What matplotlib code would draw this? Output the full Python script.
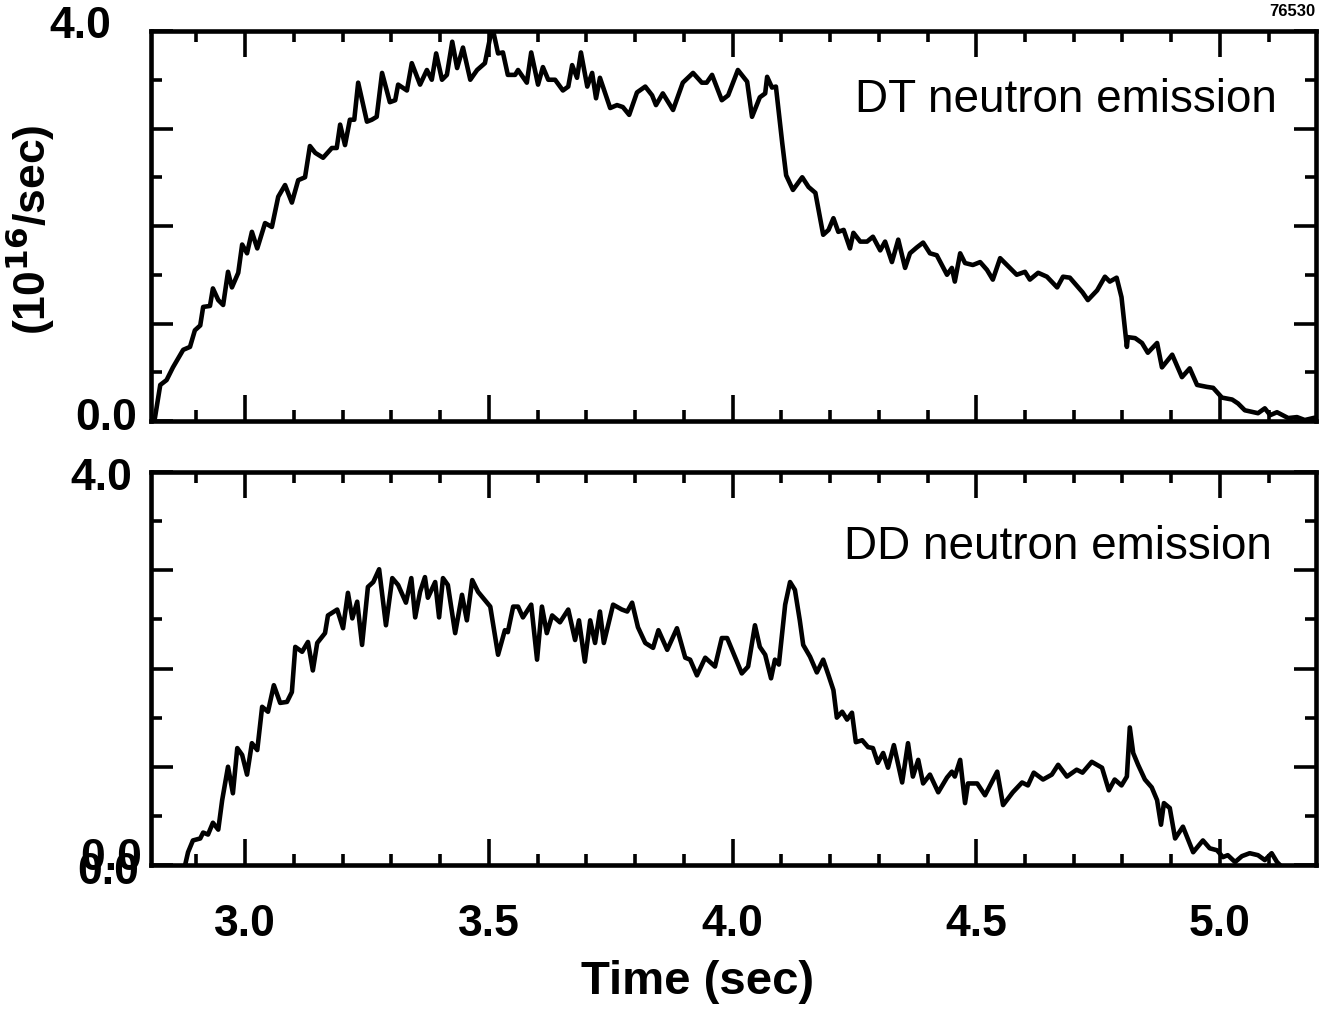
import matplotlib
matplotlib.use("Agg")
import matplotlib.pyplot as plt
from matplotlib.ticker import MultipleLocator

# DT neutron emission (10^16/sec)
dt_time = [
    2.807, 2.815, 2.826, 2.839, 2.852, 2.873, 2.887, 2.897, 2.908, 2.914,
    2.928, 2.934, 2.945, 2.955, 2.965, 2.973, 2.986, 2.994, 3.004, 3.014,
    3.025, 3.041, 3.055, 3.068, 3.082, 3.096, 3.109, 3.123, 3.133, 3.144,
    3.160, 3.178, 3.188, 3.195, 3.205, 3.215, 3.224, 3.232, 3.250, 3.260,
    3.270, 3.281, 3.297, 3.308, 3.314, 3.332, 3.342, 3.359, 3.373, 3.383,
    3.392, 3.404, 3.414, 3.425, 3.435, 3.447, 3.462, 3.476, 3.492, 3.503,
    3.509, 3.519, 3.529, 3.539, 3.554, 3.560, 3.578, 3.587, 3.601, 3.611,
    3.622, 3.636, 3.652, 3.663, 3.671, 3.681, 3.689, 3.702, 3.712, 3.720,
    3.728, 3.749, 3.763, 3.775, 3.788, 3.804, 3.821, 3.835, 3.843, 3.857,
    3.878, 3.898, 3.919, 3.937, 3.947, 3.958, 3.978, 3.991, 4.011, 4.030,
    4.040, 4.056, 4.067, 4.071, 4.081, 4.089, 4.102, 4.110, 4.124, 4.143,
    4.156, 4.170, 4.186, 4.197, 4.207, 4.217, 4.228, 4.241, 4.248, 4.262,
    4.276, 4.288, 4.303, 4.313, 4.327, 4.340, 4.354, 4.364, 4.378, 4.391,
    4.405, 4.419, 4.440, 4.450, 4.456, 4.467, 4.477, 4.493, 4.508, 4.522,
    4.534, 4.549, 4.569, 4.583, 4.600, 4.610, 4.627, 4.645, 4.666, 4.678,
    4.692, 4.706, 4.718, 4.729, 4.748, 4.764, 4.774, 4.788, 4.798, 4.809,
    4.811, 4.826, 4.840, 4.852, 4.871, 4.881, 4.902, 4.922, 4.938, 4.953,
    4.973, 4.986, 5.004, 5.025, 5.037, 5.051, 5.078, 5.092, 5.103, 5.117,
    5.140, 5.158, 5.174, 5.191,
]
dt_rate = [
    0.00, 0.03, 0.37, 0.42, 0.55, 0.73, 0.76, 0.93, 0.98, 1.17,
    1.18, 1.36, 1.24, 1.19, 1.53, 1.37, 1.52, 1.81, 1.72, 1.94,
    1.77, 2.03, 1.99, 2.30, 2.42, 2.24, 2.47, 2.50, 2.82, 2.75,
    2.70, 2.80, 2.80, 3.04, 2.83, 3.09, 3.09, 3.47, 3.07, 3.09,
    3.12, 3.57, 3.27, 3.29, 3.45, 3.39, 3.67, 3.45, 3.60, 3.50,
    3.77, 3.50, 3.55, 3.89, 3.62, 3.83, 3.50, 3.60, 3.67, 3.94,
    4.00, 3.77, 3.78, 3.55, 3.55, 3.60, 3.47, 3.78, 3.45, 3.63,
    3.50, 3.50, 3.39, 3.43, 3.65, 3.52, 3.78, 3.43, 3.57, 3.31,
    3.52, 3.21, 3.24, 3.22, 3.14, 3.37, 3.43, 3.34, 3.24, 3.36,
    3.19, 3.47, 3.57, 3.47, 3.47, 3.55, 3.29, 3.34, 3.60, 3.48,
    3.12, 3.32, 3.36, 3.53, 3.42, 3.43, 2.85, 2.52, 2.37, 2.50,
    2.40, 2.34, 1.91, 1.96, 2.08, 1.94, 1.96, 1.77, 1.93, 1.84,
    1.84, 1.89, 1.75, 1.84, 1.63, 1.86, 1.57, 1.72, 1.78, 1.83,
    1.72, 1.70, 1.50, 1.57, 1.43, 1.72, 1.62, 1.60, 1.63, 1.55,
    1.45, 1.67, 1.57, 1.50, 1.53, 1.45, 1.52, 1.48, 1.37, 1.48,
    1.47, 1.39, 1.32, 1.24, 1.34, 1.48, 1.43, 1.47, 1.27, 0.76,
    0.86, 0.85, 0.80, 0.70, 0.80, 0.55, 0.68, 0.45, 0.54, 0.37,
    0.35, 0.34, 0.24, 0.22, 0.18, 0.11, 0.08, 0.13, 0.06, 0.09,
    0.03, 0.04, 0.01, 0.03,
]

# DD neutron emission (10^16/sec)
dd_time = [
    2.877, 2.883, 2.893, 2.908, 2.914, 2.924, 2.934, 2.945, 2.953, 2.965,
    2.975, 2.984, 2.994, 3.004, 3.014, 3.025, 3.035, 3.047, 3.059, 3.072,
    3.086, 3.096, 3.103, 3.117, 3.129, 3.139, 3.148, 3.164, 3.170, 3.189,
    3.201, 3.211, 3.220, 3.230, 3.240, 3.252, 3.263, 3.275, 3.289, 3.302,
    3.314, 3.330, 3.341, 3.349, 3.359, 3.369, 3.375, 3.390, 3.398, 3.406,
    3.416, 3.431, 3.445, 3.455, 3.466, 3.478, 3.503, 3.519, 3.533, 3.539,
    3.550, 3.560, 3.570, 3.587, 3.599, 3.609, 3.619, 3.630, 3.646, 3.663,
    3.677, 3.685, 3.697, 3.708, 3.718, 3.728, 3.736, 3.755, 3.773, 3.784,
    3.794, 3.806, 3.821, 3.837, 3.848, 3.866, 3.886, 3.903, 3.913, 3.927,
    3.944, 3.964, 3.978, 3.989, 4.019, 4.032, 4.046, 4.056, 4.067, 4.079,
    4.087, 4.095, 4.108, 4.118, 4.128, 4.138, 4.145, 4.159, 4.173, 4.186,
    4.197, 4.207, 4.214, 4.225, 4.235, 4.245, 4.253, 4.266, 4.278, 4.288,
    4.298, 4.309, 4.319, 4.331, 4.348, 4.360, 4.370, 4.381, 4.391, 4.405,
    4.422, 4.440, 4.450, 4.456, 4.467, 4.477, 4.483, 4.502, 4.518, 4.543,
    4.555, 4.575, 4.594, 4.606, 4.618, 4.637, 4.655, 4.668, 4.686, 4.706,
    4.718, 4.737, 4.758, 4.772, 4.784, 4.798, 4.809, 4.815, 4.822, 4.832,
    4.846, 4.860, 4.871, 4.879, 4.885, 4.897, 4.908, 4.924, 4.945, 4.965,
    4.979, 4.994, 5.006, 5.016, 5.031, 5.045, 5.061, 5.078, 5.092, 5.106,
    5.117, 5.123,
]
dd_rate = [
    0.00, 0.13, 0.25, 0.27, 0.33, 0.31, 0.43, 0.36, 0.66, 1.00,
    0.73, 1.19, 1.12, 0.92, 1.24, 1.17, 1.61, 1.56, 1.83, 1.65,
    1.66, 1.76, 2.22, 2.17, 2.27, 1.98, 2.26, 2.36, 2.54, 2.60,
    2.41, 2.77, 2.51, 2.68, 2.24, 2.83, 2.88, 3.01, 2.44, 2.92,
    2.85, 2.67, 2.92, 2.52, 2.78, 2.93, 2.72, 2.88, 2.52, 2.92,
    2.85, 2.36, 2.75, 2.49, 2.90, 2.78, 2.63, 2.14, 2.39, 2.37,
    2.63, 2.63, 2.52, 2.65, 2.09, 2.63, 2.36, 2.54, 2.47, 2.60,
    2.29, 2.49, 2.07, 2.49, 2.26, 2.58, 2.26, 2.65, 2.60, 2.58,
    2.67, 2.42, 2.26, 2.21, 2.39, 2.19, 2.41, 2.11, 2.09, 1.93,
    2.11, 2.02, 2.31, 2.31, 1.95, 2.02, 2.44, 2.22, 2.14, 1.90,
    2.09, 2.04, 2.65, 2.88, 2.80, 2.49, 2.24, 2.12, 1.96, 2.09,
    1.93, 1.78, 1.50, 1.56, 1.48, 1.55, 1.25, 1.27, 1.20, 1.19,
    1.04, 1.14, 0.99, 1.22, 0.84, 1.24, 0.90, 1.07, 0.83, 0.92,
    0.74, 0.89, 0.95, 0.90, 1.07, 0.63, 0.83, 0.83, 0.71, 0.95,
    0.61, 0.74, 0.84, 0.81, 0.94, 0.87, 0.92, 1.02, 0.90, 0.97,
    0.94, 1.05, 0.99, 0.76, 0.87, 0.81, 0.90, 1.40, 1.14, 1.02,
    0.87, 0.79, 0.66, 0.41, 0.63, 0.58, 0.27, 0.39, 0.13, 0.25,
    0.17, 0.15, 0.08, 0.10, 0.03, 0.09, 0.12, 0.10, 0.05, 0.12,
    0.03, 0.00,
]

x_ticks = [3.0, 3.5, 4.0, 4.5, 5.0]
x_tick_labels = ["3.0", "3.5", "4.0", "4.5", "5.0"]
panel_labels = ["DT neutron emission", "DD neutron emission"]

W, H = 1323, 1015
BOLD = {"family": ["Liberation Sans", "DejaVu Sans"], "weight": "bold"}
REG = {"family": ["Liberation Sans", "DejaVu Sans"], "weight": "normal"}


def fx(px):
    return px / W


def fy(py):
    return 1 - py / H


fig = plt.figure(figsize=(W / 100, H / 100), dpi=100)
ax_dt = fig.add_axes([fx(151), fy(421), (1316 - 151) / W, (421 - 31) / H])
ax_dd = fig.add_axes([fx(151), fy(865), (1316 - 151) / W, (865 - 472) / H])

for ax in (ax_dt, ax_dd):
    ax.set_xlim(2.807, 5.197)
    ax.set_ylim(0, 4.0)
    ax.xaxis.set_major_locator(MultipleLocator(0.5))
    ax.xaxis.set_minor_locator(MultipleLocator(0.1))
    ax.yaxis.set_major_locator(MultipleLocator(1.0))
    ax.yaxis.set_minor_locator(MultipleLocator(0.5))
    ax.tick_params(which="both", direction="in", top=True, right=True,
                   labelleft=False, width=2.6, color="black")
    ax.tick_params(axis="x", which="major", length=19)
    ax.tick_params(axis="x", which="minor", length=8)
    ax.tick_params(axis="y", which="major", length=16)
    ax.tick_params(axis="y", which="minor", length=8)
    for spine in ax.spines.values():
        spine.set_linewidth(3.3)

ax_dt.tick_params(labelbottom=False)
ax_dt.plot(dt_time, dt_rate, color="black", linewidth=3.3)
ax_dd.plot(dd_time, dd_rate, color="black", linewidth=3.3)

ax_dd.set_xticks(x_ticks)
ax_dd.set_xticklabels(x_tick_labels, fontsize=32, **BOLD)
ax_dd.tick_params(axis="x", which="major", pad=28)

ax_dt.text(0.9665, 0.823, panel_labels[0], transform=ax_dt.transAxes,
           ha="right", va="center", fontsize=33, **REG)
ax_dd.text(0.962, 0.809, panel_labels[1], transform=ax_dd.transAxes,
           ha="right", va="center", fontsize=33, **REG)

# y end labels placed by hand, as on the original plot (the two 0.0 overlap there too)
fig.text(fx(80), fy(26), "4.0", ha="center", va="center", fontsize=32, **BOLD)
fig.text(fx(106), fy(419), "0.0", ha="center", va="center", fontsize=32, **BOLD)
fig.text(fx(101), fy(478), "4.0", ha="center", va="center", fontsize=32, **BOLD)
fig.text(fx(111), fy(858), "0.0", ha="center", va="center", fontsize=32, **BOLD)
fig.text(fx(108), fy(872), "0.0", ha="center", va="center", fontsize=32, **BOLD)

fig.text(fx(30), fy(230), "(10$^{\\mathbf{16}}$/sec)", rotation=90,
         ha="center", va="center", fontsize=32, **BOLD)
fig.text(fx(698), fy(982), "Time (sec)", ha="center", va="center",
         fontsize=34, **BOLD)
fig.text(fx(1315), fy(12), "76530", ha="right", va="center", fontsize=12, **BOLD)

fig.savefig("out.png", dpi=100)
